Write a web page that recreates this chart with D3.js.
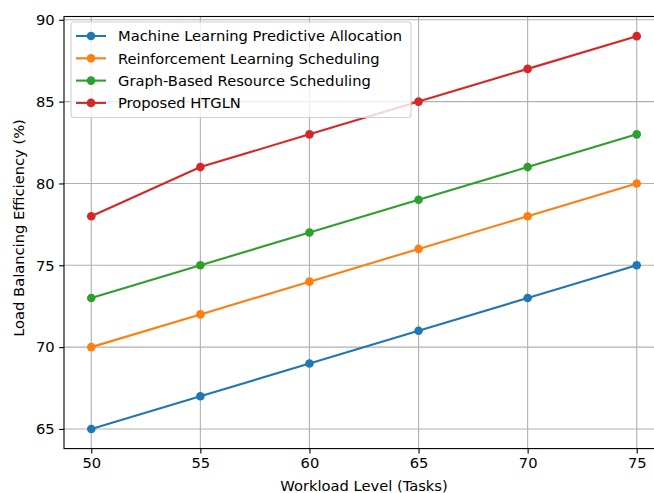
<!DOCTYPE html>
<html lang="en">
<head>
  <meta charset="UTF-8">
  <title>Load Balancing Efficiency</title>
  <script src="https://d3js.org/d3.v7.min.js"></script>
  <style>
    body { margin: 0; background: #fff; }
    text { font-family: "DejaVu Sans", sans-serif; fill: #000; }
  </style>
</head>
<body>
<div class="main"></div>
<script>
  // data
  var workload = [50, 55, 60, 65, 70, 75];
  var mlAlloc = [65, 67, 69, 71, 73, 75];
  var rlSched = [70, 72, 74, 76, 78, 80];
  var graphSched = [73, 75, 77, 79, 81, 83];
  var htgln = [78, 81, 83, 85, 87, 89];
  var seriesNames = ["Machine Learning Predictive Allocation", "Reinforcement Learning Scheduling",
                     "Graph-Based Resource Scheduling", "Proposed HTGLN"];
  var seriesColors = ["#1f77b4", "#ff7f0e", "#2ca02c", "#d62728"];
  var yTicks = [65, 70, 75, 80, 85, 90];

  var allSeries = [mlAlloc, rlSched, graphSched, htgln];

  let width = 654;
  let height = 493;
  let plotLeft = 64, plotRight = 664, plotTop = 16.5, plotBottom = 448.6;
  let fontSize = "14.7px";

  let svg = d3.select(".main").append("svg").attr("width", width).attr("height", height).style("display", "block");

  var x = d3.scaleLinear().domain([48.75, 76.25]).range([plotLeft, plotRight]);
  var y = d3.scaleLinear().domain([63.8, 90.2]).range([plotBottom, plotTop]);

  // grid
  svg.append("g").selectAll("line").data(workload).join("line")
    .attr("x1", d => x(d)).attr("x2", d => x(d)).attr("y1", plotTop).attr("y2", plotBottom)
    .style("stroke", "#b0b0b0").style("stroke-width", 1.1);
  svg.append("g").selectAll("line").data(yTicks).join("line")
    .attr("x1", plotLeft).attr("x2", plotRight).attr("y1", d => y(d)).attr("y2", d => y(d))
    .style("stroke", "#b0b0b0").style("stroke-width", 1.1);

  // axes
  var xAxis = svg.append("g").attr("transform", `translate(0,${plotBottom})`)
    .call(d3.axisBottom(x).tickValues(workload).tickSize(4.9).tickPadding(4.5));
  var yAxis = svg.append("g").attr("transform", `translate(${plotLeft},0)`)
    .call(d3.axisLeft(y).tickValues(yTicks).tickSize(4.9).tickPadding(4.5));
  [xAxis, yAxis].forEach(function(a) {
    a.select(".domain").remove();
    a.selectAll("line").style("stroke", "#000").style("stroke-width", 1.1);
    a.selectAll("text").style("font-size", fontSize).style("font-family", "DejaVu Sans");
  });

  // spines
  svg.append("rect").attr("x", plotLeft).attr("y", plotTop).attr("width", plotRight - plotLeft).attr("height", plotBottom - plotTop)
    .style("fill", "none").style("stroke", "#000").style("stroke-width", 1.1);

  // lines and points
  var line = d3.line().x((d, i) => x(workload[i])).y(d => y(d));
  allSeries.forEach(function(s, k) {
    svg.append("path").attr("d", line(s)).style("fill", "none")
      .style("stroke", seriesColors[k]).style("stroke-width", 2.1);
    svg.append("g").selectAll("circle").data(s).join("circle")
      .attr("cx", (d, i) => x(workload[i])).attr("cy", d => y(d)).attr("r", 4.3)
      .style("fill", seriesColors[k]);
  });

  // axis labels
  svg.append("text").attr("x", (plotLeft + plotRight) / 2).attr("y", 490.5).attr("text-anchor", "middle")
    .style("font-size", fontSize).text("Workload Level (Tasks)");
  svg.append("text").attr("transform", `translate(23.5,228) rotate(-90)`).attr("text-anchor", "middle")
    .style("font-size", fontSize).text("Load Balancing Efficiency (%)");

  // legend
  var lg = svg.append("g");
  lg.append("rect").attr("x", 71).attr("y", 22).attr("width", 340).attr("height", 95.5).attr("rx", 3)
    .style("fill", "#fff").style("fill-opacity", 0.8).style("stroke", "#d0d0d0").style("stroke-width", 1.1);
  seriesNames.forEach(function(n, k) {
    var ly = 36 + k * 22.3;
    lg.append("line").attr("x1", 76).attr("x2", 106).attr("y1", ly).attr("y2", ly)
      .style("stroke", seriesColors[k]).style("stroke-width", 2.1);
    lg.append("circle").attr("cx", 91).attr("cy", ly).attr("r", 4.3).style("fill", seriesColors[k]);
    lg.append("text").attr("x", 118).attr("y", ly + 5.3).style("font-size", fontSize).text(n);
  });
</script>
</body>
</html>
